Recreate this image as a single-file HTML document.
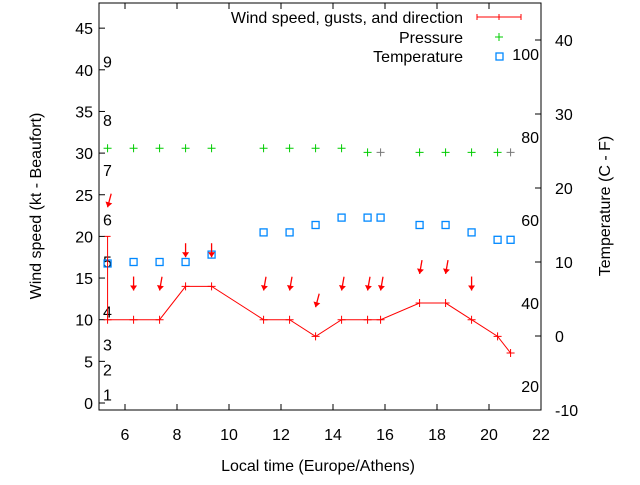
<!DOCTYPE html>
<html><head><meta charset="utf-8"><style>
body{margin:0;background:#fff}
svg text{font-family:"Liberation Sans",sans-serif;font-size:16px;fill:#000}
</style></head><body>
<svg id="c" width="640" height="480" viewBox="0 0 640 480">
<g id="g"></g>
</svg>
<script>
const times=[5.33,6.33,7.33,8.33,9.33,11.33,12.33,13.33,14.33,15.33,15.83,17.33,18.33,19.33,20.33,20.83];
const windSpeed=[10,10,10,14,14,10,10,8,10,10,10,12,12,10,8,6];
const gusts=[20,null,null,null,null,null,null,null,null,null,null,null,null,null,null,null];
const windDir=[15,0,10,0,0,10,10,15,10,10,10,10,10,0,null,null];
const temperature=[9.8,10,10,10,11,14,14,15,16,16,16,15,15,14,13,13];
const pressure=[77.3,77.3,77.3,77.3,77.3,77.3,77.3,77.3,77.3,76.3,76.3,76.3,76.3,76.3,76.3,76.3];
const leftTicks=[0,5,10,15,20,25,30,35,40,45];
const rightTicks=[-10,0,10,20,30,40];
const xTicks=[6,8,10,12,14,16,18,20,22];
const beaufort=[1,2,3,4,5,6,7,8,9];
const beaufortKt=[1,4,7,11,17,22,28,34,41];
const scaleTicks=[20,40,60,80,100];

const L=99,R=541,T=3,B=410;
const X=t=>L+(t-5)*(R-L)/17;
const Y=v=>403-v*8.33;
const YT=v=>410-(v+10)*7.4;
const YP=v=>386-(v-20)*4.15;
const g=document.getElementById('g');
const NS='http://www.w3.org/2000/svg';
function el(tag,attrs,name,txt){const e=document.createElementNS(NS,tag);for(const k in attrs)e.setAttribute(k,attrs[k]);


if(txt!==undefined)e.textContent=txt;g.appendChild(e);return e;}

el('rect',{x:L,y:T,width:R-L,height:B-T,fill:'none',stroke:'#000','stroke-width':1},'plot-frame');
leftTicks.forEach(v=>{const y=Y(v);el('line',{x1:L,y1:y,x2:L+6,y2:y,stroke:'#000'},'left-tick');
el('text',{x:93,y:y+6,'text-anchor':'end'},'left-tick-label',v);});
rightTicks.forEach(v=>{const y=YT(v);el('line',{x1:R-6,y1:y,x2:R,y2:y,stroke:'#000'},'right-tick');
el('text',{x:555,y:y+6},'right-tick-label',v);});
xTicks.forEach(v=>{const x=X(v);el('line',{x1:x,y1:B,x2:x,y2:B-6,stroke:'#000'},'x-tick');
el('line',{x1:x,y1:T,x2:x,y2:T+6,stroke:'#000'},'x-tick-top');
el('text',{x:x,y:440,'text-anchor':'middle'},'x-tick-label',v);});
beaufort.forEach((b,i)=>el('text',{x:103,y:Y(beaufortKt[i])+6},'beaufort-label',b));
scaleTicks.forEach(v=>el('text',{x:539,y:YP(v)+6,'text-anchor':'end'},'pressure-scale-label',v));

el('text',{x:318,y:471,'text-anchor':'middle'},'x-axis-title','Local time (Europe/Athens)');
el('text',{x:41,y:206,'text-anchor':'middle',transform:'rotate(-90 41 206)'},'y-axis-title','Wind speed (kt - Beaufort)');
el('text',{x:610,y:206,'text-anchor':'middle',transform:'rotate(-90 610 206)'},'y2-axis-title','Temperature (C - F)');

times.forEach((t,i)=>{const x=X(t),y=YP(pressure[i]);const c=(i===10||i===15)?'#777':'#0c0';
el('path',{d:`M${x-4} ${y}H${x+4}M${x} ${y-4}V${y+4}`,stroke:c},'pressure-point');});
times.forEach((t,i)=>el('rect',{x:X(t)-3.5,y:YT(temperature[i])-3.5,width:7,height:7,fill:'none',stroke:'#08f','stroke-width':1.3},'temperature-point'));
el('polyline',{points:times.map((t,i)=>X(t)+','+Y(windSpeed[i])).join(' '),fill:'none',stroke:'#f00'},'wind-line');
times.forEach((t,i)=>{const x=X(t),y=Y(windSpeed[i]);
el('path',{d:`M${x-4} ${y}H${x+4}M${x} ${y-4}V${y+4}`,stroke:'#f00'},'wind-point');
if(gusts[i]!=null){const gy=Y(gusts[i]);el('path',{d:`M${x} ${y}V${gy}M${x-3} ${gy}H${x+3}`,stroke:'#f00'},'gust-bar');}
if(windDir[i]!=null){const top=gusts[i]!=null?gusts[i]:windSpeed[i];const ay=Y(top+3.5);const a=windDir[i]*Math.PI/180;
const dx=Math.sin(a)*14,dy=Math.cos(a)*14;
el('line',{x1:x+dx,y1:ay-dy,x2:x,y2:ay,stroke:'#f00','stroke-width':1.3},'wind-arrow');
const ux=-Math.sin(a),uy=Math.cos(a),px=uy,py=-ux;
el('polygon',{points:`${x},${ay} ${x-ux*5+px*3.5},${ay-uy*5+py*3.5} ${x-ux*5-px*3.5},${ay-uy*5-py*3.5}`,fill:'#f00'},'wind-arrow-head');}
});
el('text',{x:463,y:23,'text-anchor':'end'},'legend-wind-label','Wind speed, gusts, and direction');
el('path',{d:'M477 17H521M477 14V20M521 14V20M499 14V20',stroke:'#f00'},'legend-wind-key');
el('text',{x:463,y:43,'text-anchor':'end'},'legend-pressure-label','Pressure');
el('path',{d:'M495 37H503M499 33V41',stroke:'#0c0'},'legend-pressure-key');
el('text',{x:463,y:62,'text-anchor':'end'},'legend-temperature-label','Temperature');
el('rect',{x:496,y:53,width:7,height:7,fill:'none',stroke:'#08f','stroke-width':1.3},'legend-temperature-key');
</script>
</body></html>
